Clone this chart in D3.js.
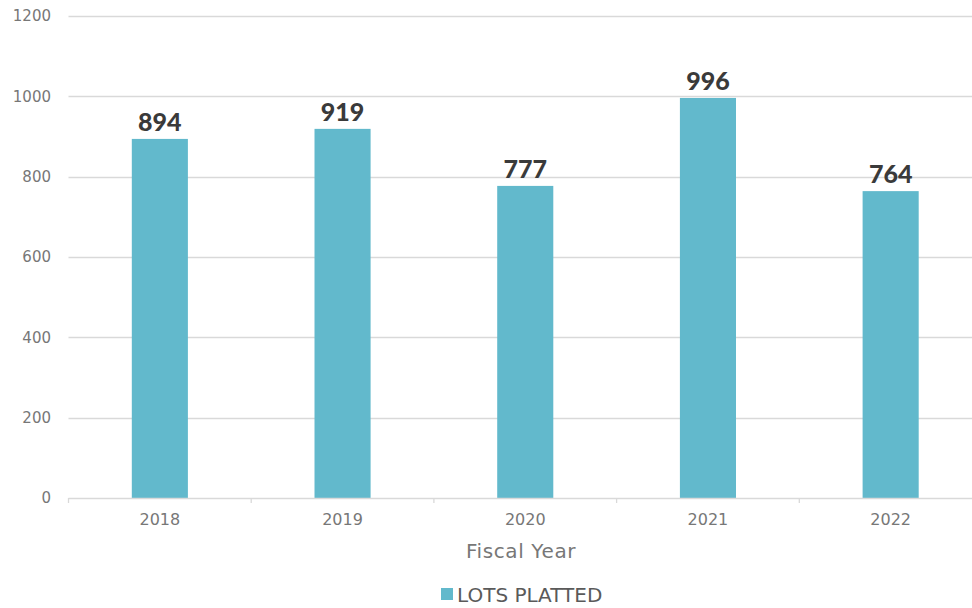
<!DOCTYPE html>
<html><head><meta charset="utf-8">
<script src="https://cdn.jsdelivr.net/npm/d3@7"></script>
<style>
html,body{margin:0;padding:0;background:#fff;}
svg{display:block;}
text{font-family:"DejaVu Sans","Lato",sans-serif;}
text.lbl{font-family:"Lato","Open Sans",sans-serif;}
</style></head>
<body>
<svg id="chart" width="972" height="608"></svg>
<script>
const categories = ["2018","2019","2020","2021","2022"];
const lotsPlatted = [894, 919, 777, 996, 764];
const yTicks = [0, 200, 400, 600, 800, 1000, 1200];
const seriesName = "LOTS PLATTED";
const xTitle = "Fiscal Year";

const svg = d3.select("#chart");
const plotLeft = 68.5, plotRight = 982, plotTop = 16, plotBottom = 498;
const x = d3.scaleBand().domain(categories).range([plotLeft, plotRight]).paddingInner(0.693).paddingOuter(0.3465);
const y = d3.scaleLinear().domain([0, 1200]).range([plotBottom, plotTop]);
const color = "#62B9CC";

// gridlines
svg.append("g").selectAll("line").data(yTicks.filter(d => d > 0)).join("line")
  .attr("x1", plotLeft).attr("x2", 972)
  .attr("y1", d => Math.round(y(d)) + 0.5).attr("y2", d => Math.round(y(d)) + 0.5)
  .attr("stroke", "#d9d9d9").attr("stroke-width", 1.3);

// y labels
svg.append("g").selectAll("text").data(yTicks).join("text")
  .attr("x", 51).attr("y", d => y(d)).attr("dy", "0.36em")
  .attr("text-anchor", "end").attr("font-size", 15).attr("fill", "#777")
  .text(d => d);

// bars
svg.append("g").selectAll("rect").data(lotsPlatted).join("rect")
  .attr("x", (d, i) => x(categories[i])).attr("width", x.bandwidth())
  .attr("y", d => y(d)).attr("height", d => y(0) - y(d))
  .attr("fill", color);

// x axis
const step = x.step();
const boundaries = d3.range(categories.length + 1).map(i => plotLeft + i * step);
const ax = svg.append("g");
ax.append("line").attr("x1", plotLeft).attr("x2", 972).attr("y1", plotBottom + 0.5).attr("y2", plotBottom + 0.5)
  .attr("stroke", "#d9d9d9").attr("stroke-width", 1.3);
ax.selectAll("line.tick").data(boundaries).join("line").attr("class", "tick")
  .attr("x1", d => d).attr("x2", d => d).attr("y1", plotBottom).attr("y2", plotBottom + 5)
  .attr("stroke", "#d9d9d9").attr("stroke-width", 1.3);
ax.selectAll("text").data(categories).join("text")
  .attr("x", d => x(d) + x.bandwidth() / 2).attr("y", 525)
  .attr("text-anchor", "middle").attr("font-size", 16).attr("fill", "#777")
  .text(d => d);

// data labels
svg.append("g").selectAll("text").data(lotsPlatted).join("text").attr("class", "lbl")
  .attr("x", (d, i) => x(categories[i]) + x.bandwidth() / 2).attr("y", d => y(d) - 8)
  .attr("text-anchor", "middle").attr("font-size", 25).attr("font-weight", 900).attr("fill", "#3a3a3a")
  .text(d => d);

// axis title
svg.append("text").attr("x", 521).attr("y", 558).attr("text-anchor", "middle")
  .attr("font-size", 20).attr("letter-spacing", 0.6).attr("fill", "#777").text(xTitle);

// legend
const lg = svg.append("g");
lg.append("rect").attr("x", 441).attr("y", 588).attr("width", 12).attr("height", 12).attr("fill", color);
lg.append("text").attr("x", 457).attr("y", 602).attr("font-size", 20).attr("fill", "#5a5a5a").text(seriesName);
</script>
</body></html>
